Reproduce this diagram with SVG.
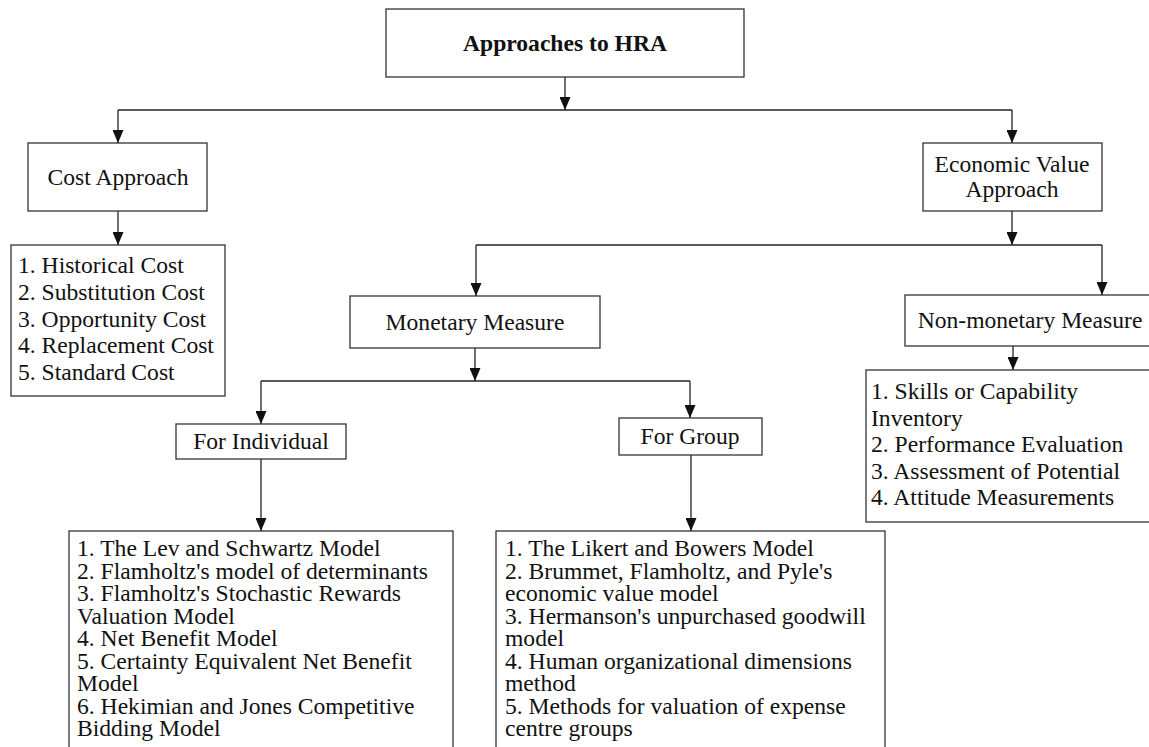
<svg xmlns="http://www.w3.org/2000/svg" width="1149" height="747" viewBox="0 0 1149 747" font-family="'Liberation Serif', 'Times New Roman', Tinos, 'DejaVu Serif', serif">
<style>
.box{fill:#fff;stroke:#333;stroke-width:1.3}
.c{fill:none;stroke:#222;stroke-width:1.3}
text{font-family:'Liberation Serif','Times New Roman',Tinos,'DejaVu Serif',serif;font-size:23.6px;fill:#111}
.m{text-anchor:middle}
.b{font-weight:bold}
</style>
<defs>
<marker id="ah" markerUnits="userSpaceOnUse" viewBox="0 0 13 11" refX="13" refY="5.5" markerWidth="13" markerHeight="11" orient="auto">
<path d="M0,0 L13,5.5 L0,11 z" fill="#111"/>
</marker>
</defs>
<rect width="1149" height="747" fill="#fff"/>
<g id="connectors">
<path class="c" d="M565,77 V110" marker-end="url(#ah)"/>
<path class="c" d="M118,110 H1012"/>
<path class="c" d="M118,110 V143" marker-end="url(#ah)"/>
<path class="c" d="M1012,110 V143" marker-end="url(#ah)"/>
<path class="c" d="M118,211 V245" marker-end="url(#ah)"/>
<path class="c" d="M1012,211 V245" marker-end="url(#ah)"/>
<path class="c" d="M476,245 H1102"/>
<path class="c" d="M476,245 V296" marker-end="url(#ah)"/>
<path class="c" d="M1102,245 V295" marker-end="url(#ah)"/>
<path class="c" d="M475,348 V381" marker-end="url(#ah)"/>
<path class="c" d="M261,381 H690"/>
<path class="c" d="M261,381 V424" marker-end="url(#ah)"/>
<path class="c" d="M690,381 V418" marker-end="url(#ah)"/>
<path class="c" d="M1013,346 V370" marker-end="url(#ah)"/>
<path class="c" d="M261,459 V531" marker-end="url(#ah)"/>
<path class="c" d="M691,455 V531" marker-end="url(#ah)"/>
</g>
<g id="approaches">
<rect class="box" x="386" y="9" width="358" height="68"/>
<text class="m b" x="565" y="51">Approaches to HRA</text>
</g>
<g id="cost-approach">
<rect class="box" x="28" y="143" width="179" height="68"/>
<text class="m" x="118" y="185">Cost Approach</text>
</g>
<g id="cost-list">
<rect class="box" x="11" y="245" width="214" height="151"/>
<text x="18" y="273">1. Historical Cost</text>
<text x="18" y="300">2. Substitution Cost</text>
<text x="18" y="327">3. Opportunity Cost</text>
<text x="18" y="353">4. Replacement Cost</text>
<text x="18" y="380">5. Standard Cost</text>
</g>
<g id="economic-value">
<rect class="box" x="923" y="143" width="179" height="68"/>
<text class="m" x="1012" y="172">Economic Value</text>
<text class="m" x="1012" y="197">Approach</text>
</g>
<g id="monetary">
<rect class="box" x="350" y="296" width="250" height="52"/>
<text class="m" x="475" y="330">Monetary Measure</text>
</g>
<g id="non-monetary">
<rect class="box" x="905" y="295" width="260" height="51"/>
<text class="m" x="1030" y="328">Non-monetary Measure</text>
</g>
<g id="non-monetary-list">
<rect class="box" x="866" y="370" width="300" height="152"/>
<text x="871" y="399">1. Skills or Capability</text>
<text x="871" y="425.5">Inventory</text>
<text x="871" y="452">2. Performance Evaluation</text>
<text x="871" y="478.5">3. Assessment of Potential</text>
<text x="871" y="505">4. Attitude Measurements</text>
</g>
<g id="for-individual">
<rect class="box" x="176" y="424" width="170" height="35"/>
<text class="m" x="261" y="449">For Individual</text>
</g>
<g id="for-group">
<rect class="box" x="619" y="418" width="143" height="37"/>
<text class="m" x="690" y="444">For Group</text>
</g>
<g id="individual-list">
<rect class="box" x="69" y="531" width="384" height="240"/>
<text x="77" y="556">1. The Lev and Schwartz Model</text>
<text x="77" y="578.5">2. Flamholtz's model of determinants</text>
<text x="77" y="601">3. Flamholtz's Stochastic Rewards</text>
<text x="77" y="623.5">Valuation Model</text>
<text x="77" y="646">4. Net Benefit Model</text>
<text x="77" y="668.5">5. Certainty Equivalent Net Benefit</text>
<text x="77" y="691">Model</text>
<text x="77" y="713.5">6. Hekimian and Jones Competitive</text>
<text x="77" y="736">Bidding Model</text>
</g>
<g id="group-list">
<rect class="box" x="496" y="531" width="389" height="240"/>
<text x="505" y="556">1. The Likert and Bowers Model</text>
<text x="505" y="578.5">2. Brummet, Flamholtz, and Pyle's</text>
<text x="505" y="601">economic value model</text>
<text x="505" y="623.5">3. Hermanson's unpurchased goodwill</text>
<text x="505" y="646">model</text>
<text x="505" y="668.5">4. Human organizational dimensions</text>
<text x="505" y="691">method</text>
<text x="505" y="713.5">5. Methods for valuation of expense</text>
<text x="505" y="736">centre groups</text>
</g>
</svg>
